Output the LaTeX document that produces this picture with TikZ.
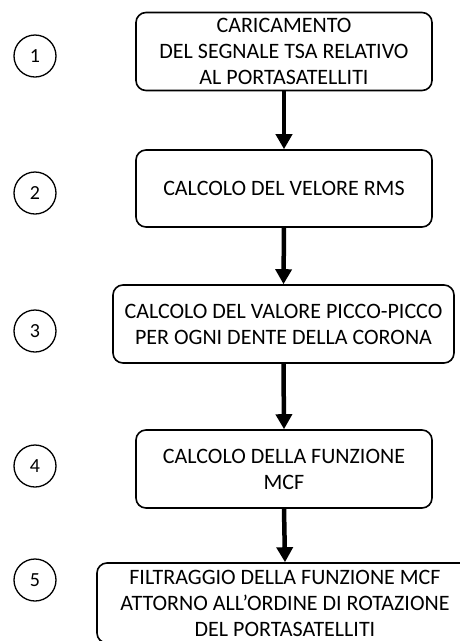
\documentclass[tikz,border=0pt]{standalone}
\usepackage{fontspec}
\setmainfont{Carlito}
\usetikzlibrary{arrows.meta, positioning}

\tikzset{
  passo/.style={draw, line width=1.6pt, rounded corners=10pt, align=center,
    minimum height=78pt, inner sep=0pt, font=\fontsize{22}{26}\selectfont},
  numero/.style={draw, circle, line width=1.3pt, minimum size=42pt, inner sep=0pt,
    font=\fontsize{20}{22}\selectfont},
  freccia/.style={line width=4.5pt, -{Triangle[width=16pt,length=15pt]}}
}

\begin{document}
\begin{tikzpicture}[x=1pt,y=-1pt]
  \useasboundingbox (0,0) rectangle (460,641);

  % blocchi del diagramma
  \node[passo, minimum width=296pt] (p1) at (284,51.5)
    {CARICAMENTO\\DEL SEGNALE TSA RELATIVO\\AL PORTASATELLITI};
  \node[passo, minimum width=296pt, minimum height=77pt] (p2) at (284,188.5)
    {CALCOLO DEL VELORE RMS};
  \node[passo, minimum width=341pt] (p3) at (283.5,324)
    {CALCOLO DEL VALORE PICCO-PICCO\\PER OGNI DENTE DELLA CORONA};
  \node[passo, minimum width=296pt] (p4) at (284,469)
    {CALCOLO DELLA FUNZIONE\\MCF};
  \node[passo, minimum width=376pt, minimum height=80pt] (p5) at (285,603)
    {FILTRAGGIO DELLA FUNZIONE MCF\\ATTORNO ALL'ORDINE DI ROTAZIONE\\DEL PORTASATELLITI};

  % numeri dei passi
  \foreach \n/\y in {1/56, 2/193, 3/331, 4/466, 5/580} {
    \node[numero] (n\n) at (35,\y) {\n};
  }

  % frecce
  \foreach \a/\b in {p1/p2, p2/p3, p3/p4, p4/p5} {
    \draw[freccia] (\a.south) -- (\b.north);
  }
\end{tikzpicture}
\end{document}
